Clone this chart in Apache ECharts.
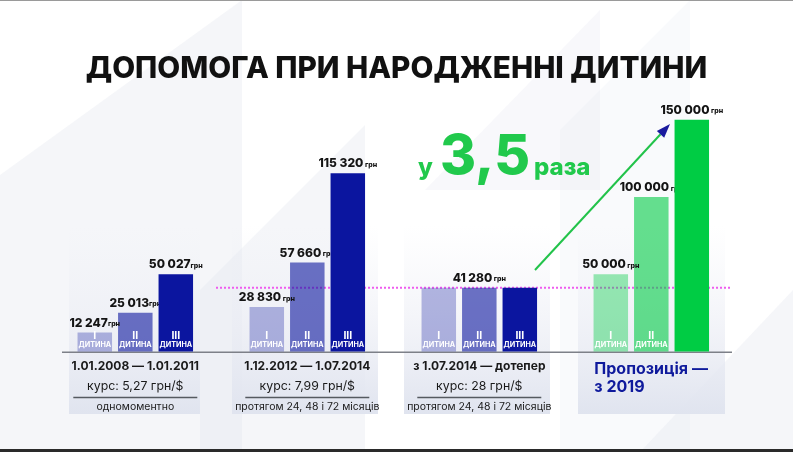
<!DOCTYPE html>
<html><head><meta charset="utf-8">
<script src="https://cdn.jsdelivr.net/npm/echarts@6/dist/echarts.min.js"></script>
<style>html,body{margin:0;padding:0;background:#fff;overflow:hidden}#c{width:793px;height:452px}</style>
</head><body><div id="c"></div><script>
const titleText = 'ДОПОМОГА ПРИ НАРОДЖЕННІ ДИТИНИ';
const categories = ['1.01.2008 — 1.01.2011', '1.12.2012 — 1.07.2014', 'з 1.07.2014 — дотепер', 'Пропозиція —\nз 2019'];
const rates = ['курс: 5,27 грн/$', 'курс: 7,99 грн/$', 'курс: 28 грн/$', ''];
const notes = ['одномоментно', 'протягом 24, 48 і 72 місяців', 'протягом 24, 48 і 72 місяців', ''];
const childNumerals = ['I', 'II', 'III'];
const childWord = 'ДИТИНА';
const firstChild = [12247, 28830, 41280, 50000];
const secondChild = [25013, 57660, 41280, 100000];
const thirdChild = [50027, 115320, 41280, 150000];
const unit = 'грн';
const growthPrefix = 'у';
const growthValue = '3,5';
const growthSuffix = 'раза';

const FONT = 'Inter';
const navy = [11, 21, 159], green = [0, 204, 68];
const alphaBlue = [0.3, 0.6, 1], alphaGreen = [0.4, 0.6, 1];
const seriesValues = [firstChild, secondChild, thirdChild];
const fmt = v => String(v).replace(/\B(?=(\d{3})+(?!\d))/g, ' ');

const BAR_W = 34.5, BAR_GAP = '17.4%';

function barData(s) {
  return seriesValues[s].map((v, g) => {
    const base = g === 3 ? green : navy;
    const a = (g === 3 ? alphaGreen : alphaBlue)[s];
    return {
      value: v,
      itemStyle: { color: `rgba(${base.join(',')},${a})` },
      label: { show: !(g === 3 && s === 2) }
    };
  });
}
function labelData(s) {
  return seriesValues[s].map((v, g) => ({
    value: v,
    label: { show: !(g === 2 && s !== 1) }
  }));
}

const series = [];
for (let s = 0; s < 3; s++) {
  series.push({
    type: 'bar', xAxisIndex: 0, yAxisIndex: 0, z: s === 2 ? 3 : 2,
    barWidth: BAR_W, barGap: BAR_GAP,
    data: barData(s),
    label: {
      position: 'insideBottom', distance: 2,
      formatter: () => `{n|${childNumerals[s]}}\n{t|${childWord}}`,
      rich: {
        n: { fontFamily: FONT, fontWeight: 'bold', fontSize: 10.5, color: '#fff', lineHeight: 10, align: 'center' },
        t: { fontFamily: FONT, fontWeight: 'bold', fontSize: 7.2, color: '#fff', lineHeight: 9, align: 'center' }
      }
    },
    emphasis: { disabled: true }, animation: false
  });
}
for (let s = 0; s < 3; s++) {
  series.push({
    type: 'bar', xAxisIndex: 1, yAxisIndex: 0, z: 2,
    barWidth: BAR_W, barGap: BAR_GAP,
    itemStyle: { color: 'rgba(0,0,0,0)' },
    data: labelData(s),
    label: {
      position: 'top', distance: 3,
      formatter: p => `{v|${fmt(p.value)}}{u|${p.dataIndex === 0 ? '' : ' '}${unit}}`,
      rich: {
        v: { fontFamily: FONT, fontWeight: 800, fontSize: 12, color: '#141414', lineHeight: 13 },
        u: { fontFamily: FONT, fontWeight: 800, fontSize: 7, color: '#141414', lineHeight: 13, padding: [2, 0, 0, 0] }
      }
    },
    emphasis: { disabled: true }, animation: false, silent: true
  });
}

const chart = echarts.init(document.getElementById('c'), null, { renderer: 'canvas' });
const option = {
  backgroundColor: '#ffffff',
  animation: false,
  title: {
    text: titleText, left: 'center', top: 49,
    textStyle: { fontFamily: FONT, fontWeight: 800, fontSize: 29.7, color: '#111' }
  },
  grid: { left: 49.3, right: 55.7, top: 104.3, bottom: 100.5 },
  xAxis: [{
    type: 'category', data: categories,
    axisLine: { show: false }, axisTick: { show: false },
    axisLabel: {
      interval: 0, margin: 5, hideOverlap: false,
      formatter: (val, i) => {
        if (i === 3) {
          const L = val.split('\n');
          return `{p1|${L[0]}}\n{p2|${L[1]}}`;
        }
        return `{d|${val}}\n{r|${rates[i]}}\n{s| }\n{n|${notes[i]}}`;
      },
      rich: {
        d: { fontFamily: FONT, fontWeight: 'bold', fontSize: 12, color: '#1a1a1a', lineHeight: 20, align: 'center' },
        r: { fontFamily: FONT, fontSize: 12.3, color: '#1a1a1a', lineHeight: 20, align: 'center' },
        s: { width: 124, height: 1.5, lineHeight: 2, backgroundColor: '#555a60', fontSize: 1 },
        n: { fontFamily: FONT, fontSize: 10.5, color: '#1a1a1a', lineHeight: 17, align: 'center' },
        p1: { fontFamily: FONT, fontWeight: 'bold', fontSize: 16, color: '#0f1a9c', lineHeight: 25, width: 114, align: 'left' },
        p2: { fontFamily: FONT, fontWeight: 'bold', fontSize: 16, color: '#0f1a9c', lineHeight: 12, width: 114, align: 'left' }
      }
    }
  }, {
    type: 'category', data: categories, show: false
  }],
  yAxis: { type: 'value', min: 0, max: 160000, show: false, splitLine: { show: false } },
  series: series
};
chart.setOption(option);

const y0 = chart.convertToPixel({ yAxisIndex: 0 }, 0);
const yRef = chart.convertToPixel({ yAxisIndex: 0 }, secondChild[2]);
const bg = 'rgba(226,229,239,0.35)';
const panelGrad = { type: 'linear', x: 0, y: 0, x2: 0, y2: 1, colorStops: [
  { offset: 0, color: 'rgba(238,240,246,0)' }, { offset: 0.5, color: 'rgba(234,236,244,0.55)' }, { offset: 1, color: 'rgba(224,228,239,1)' }] };
const panels = [[69, 131], [232, 146], [404, 146], [578, 147]];
const tip = [670, 124], start = [535, 270];
const dx = tip[0] - start[0], dy = tip[1] - start[1], len = Math.hypot(dx, dy);
const ux = dx / len, uy = dy / len, nx = -uy, ny = ux;
const bc = [tip[0] - 14 * ux, tip[1] - 14 * uy];
const GREEN_TXT = '#21c94c';

chart.setOption({
  graphic: [
    { type: 'polygon', z: 0, shape: { points: [[0, 175], [242, 0], [242, 452], [0, 452]] }, style: { fill: bg } },
    { type: 'polygon', z: 0, shape: { points: [[200, 290], [365, 125], [365, 452], [200, 452]] }, style: { fill: bg } },
    { type: 'polygon', z: 0, shape: { points: [[425, 190], [600, 10], [600, 190]] }, style: { fill: 'rgba(226,229,239,0.25)' } },
    { type: 'polygon', z: 0, shape: { points: [[560, 130], [690, 0], [690, 452], [560, 452]] }, style: { fill: 'rgba(226,229,239,0.2)' } },
    { type: 'polygon', z: 0, shape: { points: [[640, 452], [793, 290], [793, 452]] }, style: { fill: 'rgba(226,229,239,0.35)' } },
    ...panels.map(p => ({ type: 'rect', z: 0, shape: { x: p[0], y: 225, width: p[1], height: 189 }, style: { fill: panelGrad } })),
    { type: 'line', z: 1, shape: { x1: 216, y1: yRef, x2: 732, y2: yRef }, style: { stroke: '#ee5cef', lineWidth: 2, lineDash: [2, 2] } },
    { type: 'line', z: 1, shape: { x1: 62, y1: y0 + 0.8, x2: 732, y2: y0 + 0.8 }, style: { stroke: '#7d8088', lineWidth: 1.6 } },
    { type: 'line', z: 10, shape: { x1: start[0], y1: start[1], x2: bc[0], y2: bc[1] }, style: { stroke: '#22c34a', lineWidth: 2 } },
    { type: 'polygon', z: 10, shape: { points: [tip, [bc[0] + 5 * nx, bc[1] + 5 * ny], [bc[0] - 5 * nx, bc[1] - 5 * ny]] }, style: { fill: '#1a1a9e' } },
    { type: 'text', z: 10, x: 418, y: 155.5, style: { text: growthPrefix, fontFamily: FONT, fontWeight: 800, fontSize: 24, fill: GREEN_TXT } },
    { type: 'text', z: 10, x: 440, y: 130, style: { text: growthValue, fontFamily: FONT, fontWeight: 800, fontSize: 55, fill: GREEN_TXT } },
    { type: 'text', z: 10, x: 534, y: 155.5, style: { text: growthSuffix, fontFamily: FONT, fontWeight: 800, fontSize: 24, fill: GREEN_TXT } },
    { type: 'rect', z: 10, shape: { x: 0, y: 0, width: 793, height: 1 }, style: { fill: '#9a9a9a' } },
    { type: 'rect', z: 10, shape: { x: 0, y: 449, width: 793, height: 3 }, style: { fill: '#2a2a2a' } }
  ]
});
</script></body></html>
